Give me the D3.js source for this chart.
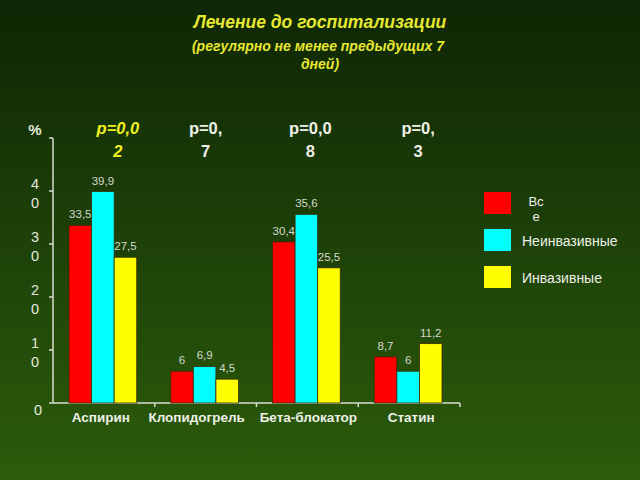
<!DOCTYPE html>
<html>
<head>
<meta charset="utf-8">
<script src="https://cdn.jsdelivr.net/npm/d3@7"></script>
<style>
  body { margin: 0; background: #1c3d08; }
  svg { display: block; font-family: Arial, "Liberation Sans", sans-serif; }
</style>
</head>
<body>
<script>
const categories = ['Аспирин', 'Клопидогрель', 'Бета-блокатор', 'Статин'];
const seriesNames = ['Все', 'Неинвазивные', 'Инвазивные'];
const seriesColors = ['#ff0000', '#00ffff', '#ffff00'];
const allValues = [33.5, 6, 30.4, 8.7];
const noninvValues = [39.9, 6.9, 35.6, 6];
const invValues = [27.5, 4.5, 25.5, 11.2];
const pLine1 = ['p=0,0', 'p=0,', 'p=0,0', 'p=0,'];
const pLine2 = ['2', '7', '8', '3'];
const yTicks = [0, 10, 20, 30, 40];

const width = 640, height = 480;
const series = [allValues, noninvValues, invValues];

const svg = d3.select('body').append('svg')
  .attr('width', width)
  .attr('height', height);

const defs = svg.append('defs');
const grad = defs.append('linearGradient')
  .attr('id', 'bg').attr('x1', 0).attr('y1', 0).attr('x2', 0).attr('y2', 1);
grad.append('stop').attr('offset', '0%').attr('stop-color', '#0e2604');
grad.append('stop').attr('offset', '50%').attr('stop-color', '#1d4108');
grad.append('stop').attr('offset', '100%').attr('stop-color', '#2c5c0b');
svg.append('rect').attr('width', width).attr('height', height).attr('fill', 'url(#bg)');

// title
const titleColor = '#e6e832';
svg.append('text')
  .attr('x', 320).attr('y', 28)
  .attr('text-anchor', 'middle')
  .attr('font-size', 17.5).attr('font-weight', 'bold').attr('font-style', 'italic')
  .attr('fill', titleColor)
  .text('Лечение до госпитализации');
svg.append('text')
  .attr('x', 318).attr('y', 51)
  .attr('text-anchor', 'middle')
  .attr('font-size', 14).attr('font-weight', 'bold').attr('font-style', 'italic')
  .attr('fill', titleColor)
  .text('(регулярно не менее предыдущих 7');
svg.append('text')
  .attr('x', 320).attr('y', 69)
  .attr('text-anchor', 'middle')
  .attr('font-size', 14).attr('font-weight', 'bold').attr('font-style', 'italic')
  .attr('fill', titleColor)
  .text('дней)');

const x0 = d3.scaleBand().domain(categories).range([53, 460]).paddingInner(0).paddingOuter(0);
const x1 = d3.scaleBand().domain(d3.range(3)).range([16, x0.bandwidth() - 18]).padding(0);
const y = d3.scaleLinear().domain([0, 50]).range([403, 138]);

// y axis
const axisColor = '#d8dcd0';
svg.append('line')
  .attr('x1', 53).attr('x2', 53).attr('y1', y(50)).attr('y2', y(0))
  .attr('stroke', axisColor).attr('stroke-width', 1.5);
svg.selectAll('.ytick').data(yTicks.concat([50])).enter().append('line')
  .attr('x1', 49).attr('x2', 53)
  .attr('y1', d => y(d)).attr('y2', d => y(d))
  .attr('stroke', axisColor).attr('stroke-width', 1.5);

// y tick labels, digits stacked
yTicks.forEach(t => {
  const digits = String(t).split('');
  const g = svg.append('text')
    .attr('text-anchor', 'middle')
    .attr('font-size', 14.5)
    .attr('fill', '#e4e8dc');
  if (digits.length === 1) {
    g.attr('x', 38).attr('y', y(t) + 12).text(digits[0]);
  } else {
    digits.forEach((d, i) => {
      g.append('tspan').attr('x', 35).attr('y', y(t) - 2 + i * 19).text(d);
    });
  }
});

svg.append('text')
  .attr('x', 35).attr('y', 135)
  .attr('text-anchor', 'middle')
  .attr('font-size', 15).attr('font-weight', 'bold')
  .attr('fill', '#e4e8dc')
  .text('%');

// x axis
svg.append('line')
  .attr('x1', 53).attr('x2', 460).attr('y1', y(0)).attr('y2', y(0))
  .attr('stroke', axisColor).attr('stroke-width', 1.5);
svg.selectAll('.xtick').data(categories).enter().append('line')
  .attr('x1', d => x0(d) + x0.bandwidth()).attr('x2', d => x0(d) + x0.bandwidth())
  .attr('y1', y(0)).attr('y2', y(0) + 4)
  .attr('stroke', axisColor).attr('stroke-width', 1.5);

svg.selectAll('.xlabel').data(categories).enter().append('text')
  .attr('x', (d, i) => x0(d) + x0.bandwidth() / 2 + [-3, -9, 1, 2][i])
  .attr('y', 422)
  .attr('text-anchor', 'middle')
  .attr('font-size', 13.5).attr('font-weight', 'bold')
  .attr('fill', '#eef0e8')
  .text(d => d);

// bars
const groups = svg.selectAll('.grp').data(categories).enter().append('g')
  .attr('transform', d => `translate(${x0(d)},0)`);

groups.each(function (cat, ci) {
  const g = d3.select(this);
  series.forEach((vals, si) => {
    const v = vals[ci];
    g.append('rect')
      .attr('x', x1(si))
      .attr('y', y(v))
      .attr('width', x1.bandwidth())
      .attr('height', y(0) - y(v))
      .attr('fill', seriesColors[si])
      .attr('stroke', '#3a2a08').attr('stroke-width', 0.8);
    g.append('text')
      .attr('x', x1(si) + x1.bandwidth() / 2)
      .attr('y', y(v) - 7)
      .attr('text-anchor', 'middle')
      .attr('font-size', 11.5)
      .attr('fill', '#d4d8cc')
      .text(String(v).replace('.', ','));
  });
});

// p-values
categories.forEach((c, i) => {
  const cx = x0(c) + x0.bandwidth() / 2 + [14, 0, 3, 9][i];
  const first = i === 0;
  const t = svg.append('text')
    .attr('text-anchor', 'middle')
    .attr('font-size', 16.5).attr('font-weight', 'bold')
    .attr('font-style', first ? 'italic' : 'normal')
    .attr('fill', first ? '#f0f020' : '#eef0e8');
  t.append('tspan').attr('x', cx).attr('y', 134).text(pLine1[i]);
  t.append('tspan').attr('x', cx).attr('y', 157).text(pLine2[i]);
});

// legend
const legendY = [192, 229, 266];
seriesNames.forEach((name, i) => {
  svg.append('rect')
    .attr('x', 484).attr('y', legendY[i])
    .attr('width', 27).attr('height', 22)
    .attr('fill', seriesColors[i]);
  if (i === 0) {
    const t = svg.append('text')
      .attr('text-anchor', 'middle')
      .attr('font-size', 13).attr('fill', '#eef0e8');
    t.append('tspan').attr('x', 536).attr('y', 206).text('Вс');
    t.append('tspan').attr('x', 536).attr('y', 221).text('е');
  } else {
    svg.append('text')
      .attr('x', 522).attr('y', legendY[i] + 17)
      .attr('font-size', 14).attr('fill', '#eef0e8')
      .text(name);
  }
});
</script>
</body>
</html>
